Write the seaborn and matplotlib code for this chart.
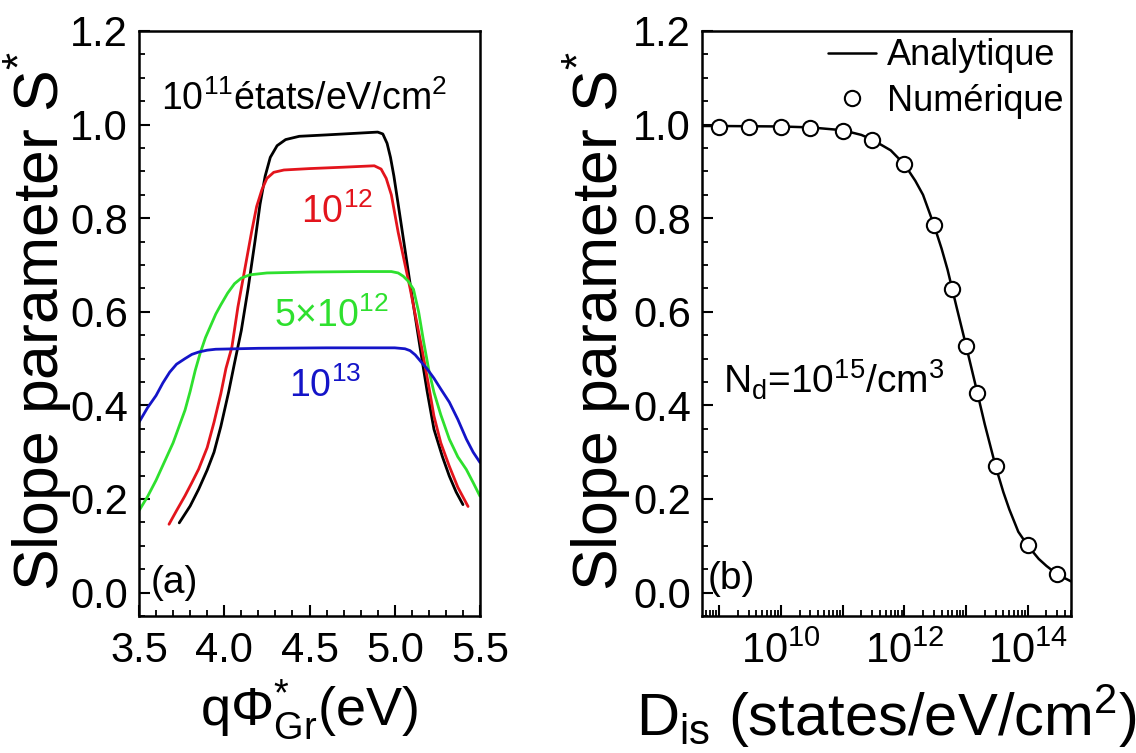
import numpy as np
import pandas as pd
import seaborn as sns
import matplotlib.pyplot as plt
from matplotlib.ticker import MultipleLocator, FormatStrFormatter, LogLocator, FuncFormatter

# ---- panel (a): S* vs work function, one curve per interface-state density
phi_1e11 = [3.736, 3.80, 3.85, 3.90, 3.94, 3.98, 4.026, 4.06, 4.10, 4.14, 4.18, 4.21, 4.24, 4.27,
            4.31, 4.36, 4.44, 4.6, 4.8, 4.9, 4.93, 4.955, 4.975, 4.995, 5.03, 5.09, 5.15, 5.19,
            5.23, 5.28, 5.32, 5.36, 5.40]
s_1e11 = [0.149, 0.185, 0.221, 0.262, 0.30, 0.355, 0.429, 0.49, 0.56, 0.65, 0.75, 0.83, 0.89, 0.93,
          0.955, 0.968, 0.975, 0.978, 0.982, 0.984, 0.98, 0.96, 0.93, 0.89, 0.806, 0.66, 0.52, 0.43,
          0.349, 0.29, 0.249, 0.215, 0.188]

phi_1e12 = [3.676, 3.72, 3.77, 3.81, 3.85, 3.90, 3.94, 3.98, 4.01, 4.045, 4.08, 4.12, 4.16, 4.19,
            4.22, 4.25, 4.29, 4.35, 4.5, 4.7, 4.88, 4.92, 4.95, 4.98, 5.02, 5.09, 5.16, 5.20, 5.23,
            5.27, 5.32, 5.37, 5.43]
s_1e12 = [0.146, 0.175, 0.207, 0.235, 0.264, 0.31, 0.364, 0.425, 0.479, 0.525, 0.61, 0.69, 0.77, 0.825,
          0.86, 0.885, 0.898, 0.903, 0.906, 0.909, 0.912, 0.905, 0.885, 0.85, 0.77, 0.65, 0.52, 0.44, 0.377,
          0.32, 0.27, 0.225, 0.184]

phi_5e12 = [3.5, 3.55, 3.6, 3.65, 3.7, 3.74, 3.77, 3.80, 3.83, 3.86, 3.89, 3.92, 3.95, 3.98, 4.02,
            4.06, 4.1, 4.15, 4.25, 4.5, 4.8, 4.98, 5.02, 5.05, 5.08, 5.11, 5.14, 5.17, 5.20, 5.23,
            5.27, 5.32, 5.37, 5.42, 5.46, 5.5]
s_5e12 = [0.175, 0.205, 0.24, 0.28, 0.32, 0.36, 0.39, 0.43, 0.475, 0.513, 0.545, 0.57, 0.595, 0.615, 0.64,
          0.66, 0.672, 0.679, 0.683, 0.685, 0.686, 0.686, 0.683, 0.676, 0.665, 0.648, 0.60, 0.535, 0.475,
          0.428, 0.38, 0.328, 0.29, 0.263, 0.235, 0.206]

phi_1e13 = [3.5, 3.55, 3.6, 3.64, 3.68, 3.72, 3.77, 3.81, 3.85, 3.9, 3.95, 4.2, 4.6, 5.0, 5.06, 5.09,
            5.12, 5.15, 5.19, 5.23, 5.27, 5.32, 5.37, 5.42, 5.46, 5.5]
s_1e13 = [0.364, 0.395, 0.421, 0.448, 0.471, 0.488, 0.50, 0.509, 0.514, 0.518, 0.520, 0.522, 0.523, 0.523,
          0.521, 0.517, 0.508, 0.495, 0.478, 0.458, 0.435, 0.407, 0.37, 0.328, 0.30, 0.278]

# ---- panel (b): S* vs Dis
dis_line = [5.25e8, 1e9, 1e10, 3e10, 1e11, 2e11, 3e11, 6e11, 1e12, 1.5e12, 2e12, 3e12, 4e12, 5e12, 7e12,
            1e13, 1.5e13, 2e13, 3e13, 4e13, 5e13, 7e13, 1e14, 1.5e14, 2e14, 3e14, 5e14]
s_line = [0.997, 0.997, 0.996, 0.994, 0.988, 0.978, 0.968, 0.945, 0.915, 0.88, 0.85, 0.786, 0.735, 0.69,
          0.61, 0.527, 0.43, 0.36, 0.27, 0.215, 0.178, 0.13, 0.10, 0.072, 0.057, 0.039, 0.024]

dis_pts = [1e9, 3e9, 1e10, 3e10, 1e11, 3e11, 1e12, 3e12, 6e12, 1e13, 1.5e13, 3e13, 1e14, 3e14]
s_pts = [0.995, 0.995, 0.995, 0.993, 0.986, 0.968, 0.915, 0.786, 0.649, 0.527, 0.426, 0.27, 0.101, 0.039]

sns.set_style('ticks')
plt.rcParams['font.family'] = ['Liberation Sans', 'DejaVu Sans']
plt.rcParams['mathtext.fontset'] = 'custom'
plt.rcParams['mathtext.rm'] = 'Liberation Sans'
plt.rcParams['mathtext.it'] = 'Liberation Sans:italic'
plt.rcParams['mathtext.bf'] = 'Liberation Sans:bold'
for k in ['text.color', 'axes.labelcolor', 'xtick.color', 'ytick.color', 'axes.edgecolor']:
    plt.rcParams[k] = 'black'
plt.rcParams['axes.linewidth'] = 1.8
plt.rcParams['xtick.direction'] = 'in'
plt.rcParams['ytick.direction'] = 'in'

fig = plt.figure(figsize=(11.36, 7.53), dpi=100)
axa = fig.add_axes([139 / 1136, 1 - 616 / 753, 341 / 1136, 585 / 753])
axb = fig.add_axes([702 / 1136, 1 - 616 / 753, 369 / 1136, 585 / 753])

curves = [(phi_1e11, s_1e11, 'black'), (phi_1e12, s_1e12, '#e3141c'),
          (phi_5e12, s_5e12, '#2ee02e'), (phi_1e13, s_1e13, '#1414c8')]
for xs, ys, c in curves:
    sns.lineplot(x=xs, y=ys, color=c, lw=2.0, sort=False, estimator=None, ax=axa)

axa.text(4.47, 1.055, r'$10^{11}$états/eV/cm$^{2}$', fontsize=27, ha='center', va='center')
axa.text(4.66, 0.812, r'$10^{12}$', fontsize=27, color='#e3141c', ha='center', va='center')
axa.text(4.63, 0.59, r'5×$10^{12}$', fontsize=27, color='#2ee02e', ha='center', va='center')
axa.text(4.59, 0.44, r'$10^{13}$', fontsize=27, color='#1414c8', ha='center', va='center')
axa.text(3.57, 0.02, '(a)', fontsize=28, ha='left', va='center')

axa.set_xlim(3.5, 5.5)
axa.set_ylim(-0.05, 1.2)
axa.xaxis.set_major_locator(MultipleLocator(0.5))
axa.xaxis.set_minor_locator(MultipleLocator(0.1))
axa.xaxis.set_major_formatter(FormatStrFormatter('%.1f'))
axa.set_xlabel(r'q$\Phi^{*}_{\mathrm{Gr}}$(eV)', fontsize=39)
axa.set_ylabel(r'Slope parameter S$^{*}$', fontsize=45)

# panel (b)
sns.lineplot(x=dis_line, y=s_line, color='black', lw=1.8, sort=False, estimator=None,
             ax=axb, label='Analytique')
sns.lineplot(x=dis_pts, y=s_pts, color='black', marker='o', linestyle='none', ms=11,
             mfc='white', mec='black', mew=1.5, estimator=None, ax=axb, label='Numérique')
axb.set_xscale('log')
axb.set_xlim(5.25e8, 5.0e14)
axb.set_ylim(-0.05, 1.2)
axb.xaxis.set_major_locator(LogLocator(base=10, numticks=20))
axb.xaxis.set_minor_locator(LogLocator(base=10, subs=np.arange(2, 10), numticks=20))
axb.xaxis.set_major_formatter(FuncFormatter(
    lambda v, p: r'$10^{%d}$' % round(np.log10(v)) if round(np.log10(v)) % 2 == 0 else ''))
axb.text(1.15e9, 0.455, r'N$_{\mathrm{d}}$=$10^{15}$/cm$^{3}$', fontsize=28, ha='left', va='center')
axb.text(6.5e8, 0.028, '(b)', fontsize=28, ha='left', va='center')
axb.set_xlabel(r'D$_{\mathrm{is}}$ (states/eV/cm$^{2}$)', fontsize=43)
axb.set_ylabel(r'Slope parameter S$^{*}$', fontsize=45)
axb.legend(loc='upper right', frameon=False, fontsize=26, handlelength=1.35, handletextpad=0.3,
           borderaxespad=0.1, borderpad=0.1, labelspacing=0.3)

for ax in (axa, axb):
    ax.yaxis.set_major_locator(MultipleLocator(0.2))
    ax.yaxis.set_minor_locator(MultipleLocator(0.05))
    ax.yaxis.set_major_formatter(FormatStrFormatter('%.1f'))
    ax.tick_params(which='major', length=8, width=1.5, labelsize=30, top=False, right=False)
    ax.tick_params(which='minor', length=4.5, width=1.3, top=False, right=False)
    ax.tick_params(axis='y', which='major', pad=8)
    ax.tick_params(axis='x', which='major', pad=11)
    for sp in ax.spines.values():
        sp.set_visible(True)

axa.yaxis.set_label_coords(-0.19, 0.505)
axb.yaxis.set_label_coords(-0.186, 0.505)
axa.xaxis.set_label_coords(0.5, -0.105)
axb.xaxis.set_label_coords(0.5, -0.115)

fig.savefig('out.png', dpi=100)
